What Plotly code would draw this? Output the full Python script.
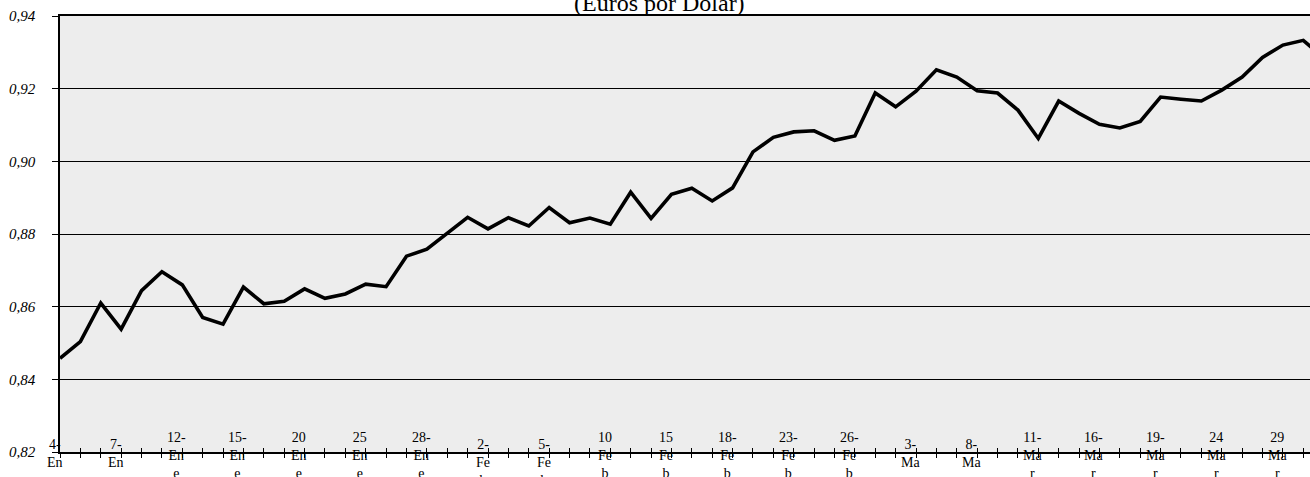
import plotly.graph_objects as go

# Días hábiles, enero-marzo 1999
fechas = [
    "4-Ene", "5-Ene", "6-Ene", "7-Ene", "8-Ene", "11-Ene", "12-Ene", "13-Ene", "14-Ene", "15-Ene",
    "18-Ene", "19-Ene", "20-Ene", "21-Ene", "22-Ene", "25-Ene", "26-Ene", "27-Ene", "28-Ene", "29-Ene",
    "1-Feb", "2-Feb", "3-Feb", "4-Feb", "5-Feb", "8-Feb", "9-Feb", "10-Feb", "11-Feb", "12-Feb",
    "15-Feb", "16-Feb", "17-Feb", "18-Feb", "19-Feb", "22-Feb", "23-Feb", "24-Feb", "25-Feb", "26-Feb",
    "1-Mar", "2-Mar", "3-Mar", "4-Mar", "5-Mar", "8-Mar", "9-Mar", "10-Mar", "11-Mar", "12-Mar",
    "15-Mar", "16-Mar", "17-Mar", "18-Mar", "19-Mar", "22-Mar", "23-Mar", "24-Mar", "25-Mar", "26-Mar",
    "29-Mar", "30-Mar", "31-Mar",
]

# Euros por dólar
euros_por_dolar = [
    0.8458, 0.8504, 0.8610, 0.8538, 0.8644, 0.8696, 0.8660, 0.8570, 0.8552, 0.8654,
    0.8608, 0.8615, 0.8649, 0.8623, 0.8635, 0.8662, 0.8655, 0.8739, 0.8758, 0.8802,
    0.8846, 0.8814, 0.8845, 0.8822, 0.8873, 0.8831, 0.8844, 0.8827, 0.8915, 0.8843,
    0.8909, 0.8926, 0.8891, 0.8927, 0.9026, 0.9066, 0.9081, 0.9084, 0.9058, 0.9070,
    0.9188, 0.9150, 0.9193, 0.9252, 0.9232, 0.9194, 0.9188, 0.9141, 0.9063, 0.9166,
    0.9132, 0.9102, 0.9092, 0.9110, 0.9177, 0.9171, 0.9166, 0.9196, 0.9232, 0.9286,
    0.9320, 0.9333, 0.9285,
]

# Rótulos del eje de categorías (uno cada tres días), tal como se parten en líneas
etiquetas_x = [
    "4-|En|e", "7-|En|e", "12-|En|e", "15-|En|e", "20|En|e", "25|En|e", "28-|En|e",
    "2-|Fe|b", "5-|Fe|b", "10|Fe|b", "15|Fe|b", "18-|Fe|b", "23-|Fe|b", "26-|Fe|b",
    "3-|Ma|r", "8-|Ma|r", "11-|Ma|r", "16-|Ma|r", "19-|Ma|r", "24|Ma|r", "29|Ma|r",
]
paso_etiquetas = 3

titulo = "(Euros por Dólar)"

serif = "Liberation Serif"
x_fin = 61.33

fig = go.Figure()
fig.add_trace(go.Scatter(
    x=fechas, y=euros_por_dolar, mode="lines",
    line=dict(color="black", width=3.6),
    hovertemplate="%{x}: %{y:.4f}<extra></extra>",
))
# Serie auxiliar para el eje superpuesto que dibuja la mitad interior de las marcas
fig.add_trace(go.Scatter(
    x=fechas, y=euros_por_dolar, xaxis="x2", mode="lines",
    line=dict(color="rgba(0,0,0,0)", width=0), hoverinfo="skip", showlegend=False,
))

anotaciones = []
for k, texto in enumerate(etiquetas_x):
    lineas = texto.split("|")
    un_digito = len(lineas[0]) == 2 and lineas[0].endswith("-")
    anotaciones.append(dict(
        x=fechas[k * paso_etiquetas], y=0, xref="x", yref="paper",
        text="<br>".join(lineas), showarrow=False,
        xanchor="center", yanchor="top", xshift=-5.5,
        yshift=17 if un_digito else 24,
        font=dict(family=serif, size=14, color="black"),
        align="center",
    ))

anotaciones.append(dict(
    x=(659 - 60) / 1250, y=1 + (16 - 2.5) / 436, xref="paper", yref="paper",
    text=titulo, showarrow=False, xanchor="center", yanchor="middle",
    font=dict(family=serif, size=24, color="black"),
))

fig.update_layout(
    width=1310, height=477,
    margin=dict(l=60, r=0, t=16, b=25),
    paper_bgcolor="white", plot_bgcolor="#EDEDED",
    font=dict(family=serif, color="black", size=15),
    showlegend=False, separators=",.",
    annotations=anotaciones,
    xaxis=dict(
        type="category", range=[0, x_fin],
        showline=True, linecolor="black", linewidth=1.6, mirror=True,
        ticks="outside", ticklen=4, tickwidth=1, tickcolor="black",
        showticklabels=False, showgrid=False, zeroline=False,
    ),
    xaxis2=dict(
        type="category", range=[0, x_fin], overlaying="x", anchor="y", side="bottom",
        ticks="inside", ticklen=4, tickwidth=1, tickcolor="black",
        showticklabels=False, showgrid=False, showline=False, zeroline=False,
    ),
    yaxis=dict(
        range=[0.82, 0.94], tick0=0.82, dtick=0.02, tickformat=".2f",
        showgrid=True, gridcolor="black", gridwidth=1.4,
        showline=True, linecolor="black", linewidth=1.5,
        ticks="outside", ticklen=6, tickwidth=1, tickcolor="black",
        tickfont=dict(family=serif, size=15, color="black", style="italic"),
        ticklabelstandoff=14, zeroline=False,
    ),
)

fig.write_html("out.html")
